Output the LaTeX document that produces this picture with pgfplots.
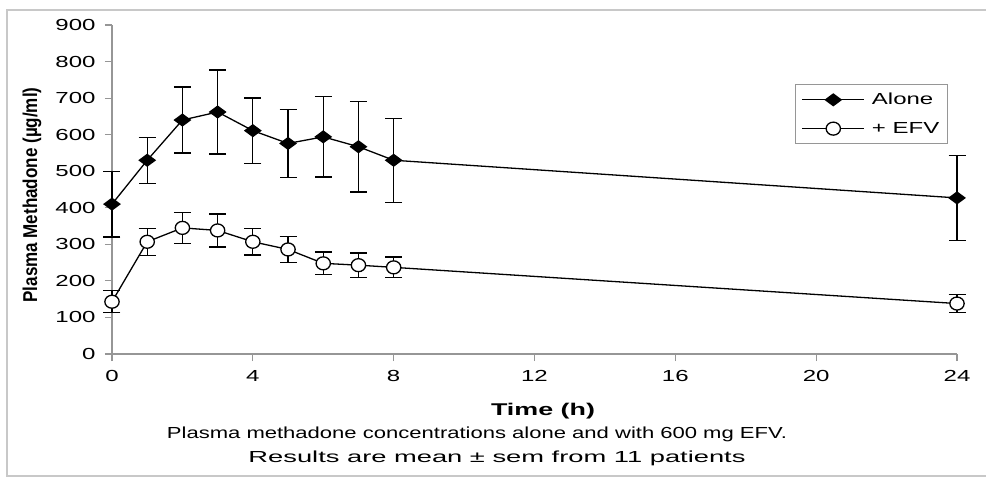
\documentclass[border=0pt]{standalone}
\usepackage{pgfplots}
\pgfplotsset{compat=1.18}
\usepackage{pgfplotstable}
\usepackage{fontspec}
\setmainfont{Liberation Sans}
\usepackage{graphicx}
\newcommand\wide[1]{\scalebox{1.5}[1]{#1}}
\definecolor{framegray}{RGB}{200,200,200}
\definecolor{axgray}{RGB}{150,150,150}
\pgfplotstableread{
t m e
0 410 90
1 530 63
2 640 90
3 662 115
4 611 89
5 576 93
6 594 110
7 567 124
8 530 115
24 427 116
}\alone
\pgfplotstableread{
t m e
0 143 30
1 307 37
2 345 43
3 338 45
4 307 36
5 286 35
6 248 31
7 243 33
8 237 28
24 138 24
}\efv
\begin{document}
\begin{tikzpicture}
\path[use as bounding box, fill=white] (-112pt,-123pt) rectangle (874pt,354pt);
\draw[framegray, line width=1.5pt] (874pt,344pt) -- (-105pt,344pt) -- (-105pt,-122pt) -- (874pt,-122pt);
\begin{axis}[
  at={(0pt,0pt)}, anchor=south west,
  scale only axis, width=845pt, height=329pt,
  xmin=0, xmax=24, ymin=0, ymax=900,
  xtick={0,4,...,24}, ytick={0,100,...,900},
  axis lines=left, axis line style={-, draw=axgray, line width=1.2pt},
  tick align=outside, major tick length=7pt,
  tick style={draw=axgray, line width=1.2pt},
  clip=false,
  tick label style={font=\fontsize{16}{19}\selectfont},
  xticklabel={\wide{\pgfmathprintnumber[assume math mode=true]{\tick}}},
  yticklabel={\wide{\pgfmathprintnumber[assume math mode=true]{\tick}}},
  xticklabel style={yshift=-6pt},
  yticklabel style={xshift=-6pt},
  legend cell align=left,
  legend image code/.code={\draw[mark repeat=2,mark phase=2,#1] plot coordinates {(0pt,0pt) (31pt,0pt) (62pt,0pt)};},
  legend style={at={(0.989,0.821)}, anchor=north east, draw=axgray, line width=0.8pt,
    inner xsep=6pt, inner ysep=7pt, row sep=12pt, font=\fontsize{16}{19}\selectfont},
]
\addplot[black, line width=1.3pt, mark=diamond*, mark size=5.8pt, mark options={xscale=1.8, solid},
  error bars/.cd, y dir=both, y explicit,
  error bar style={line width=1.3pt, black},
  error mark options={rotate=90, mark size=8.5pt, line width=1.3pt, black}]
  table[x=t, y=m, y error=e] {\alone};
\addlegendentry{\hspace{5pt}\wide{Alone}}
\addplot[black, line width=1.3pt, mark=*, mark size=6.5pt, mark options={fill=white, xscale=1.1, solid},
  error bars/.cd, y dir=both, y explicit,
  error bar style={line width=1.3pt, black},
  error mark options={rotate=90, mark size=8.5pt, line width=1.3pt, black}]
  table[x=t, y=m, y error=e] {\efv};
\addlegendentry{\hspace{5pt}\wide{+ EFV}}
\end{axis}
\node[font=\fontsize{17}{20}\selectfont\bfseries] at (431pt,-57pt) {\resizebox{104pt}{\height}{Time (h)}};
\node[font=\fontsize{16}{19}\selectfont] at (365pt,-80pt) {\resizebox{620pt}{\height}{Plasma methadone concentrations alone and with 600 mg EFV.}};
\node[font=\fontsize{16}{19}\selectfont] at (385pt,-104pt) {\resizebox{497pt}{\height}{Results are mean ± sem from 11 patients}};
\node[rotate=90, font=\fontsize{20}{24}\selectfont\bfseries] at (-80pt,159pt) {\resizebox{215pt}{\height}{Plasma Methadone (µg/ml)}};
\end{tikzpicture}
\end{document}
